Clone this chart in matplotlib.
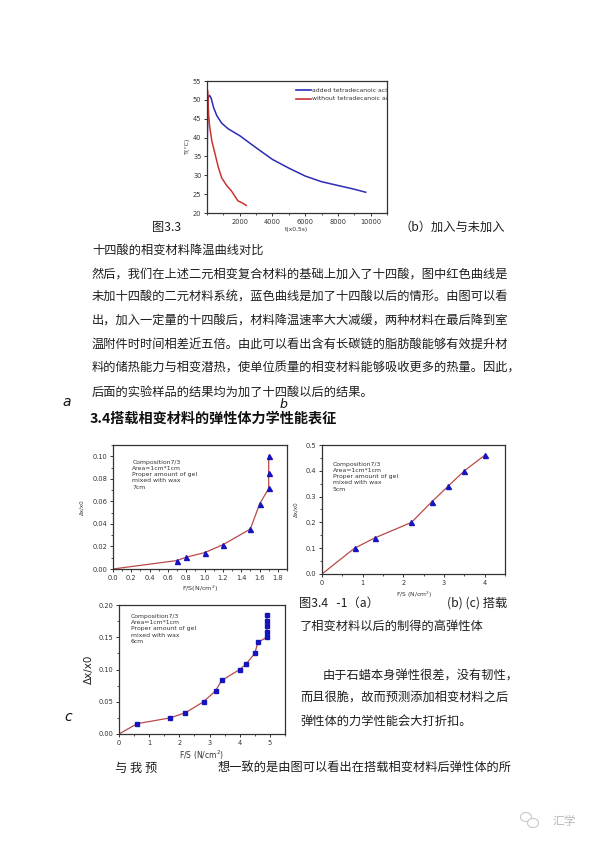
import matplotlib
matplotlib.use("Agg")
import matplotlib.pyplot as plt
from matplotlib.patches import Ellipse
from matplotlib.ticker import MultipleLocator

plt.rcParams['font.family'] = ['Noto Sans CJK SC', 'DejaVu Sans']
plt.rcParams['axes.unicode_minus'] = False

# 图3.3 降温曲线
t_added = [0, 20, 60, 150, 250, 400, 600, 900, 1300, 2000, 3000, 4000, 5000, 6000, 7000, 8000, 9000, 9700]
T_added = [20, 40, 50.5, 51.2, 50.5, 48, 45.8, 43.8, 42.3, 40.5, 37.3, 34.2, 31.9, 29.8, 28.3, 27.3, 26.3, 25.5]
t_without = [0, 30, 60, 100, 160, 300, 500, 700, 900, 1200, 1500, 1800, 1900, 2100, 2400]
T_without = [25, 52.5, 50, 46, 43, 39, 35.5, 32, 29.3, 27.3, 25.8, 23.8, 23.2, 22.8, 22.0]

# 图3.4 (a) 7cm
fs_a = [0, 0.7, 0.8, 1.0, 1.2, 1.5, 1.6, 1.7, 1.7, 1.7]
dx_a = [0, 0.0075, 0.0105, 0.0145, 0.0215, 0.0355, 0.0575, 0.0715, 0.0855, 0.1]
# (b) 5cm
fs_b = [0, 0.8, 1.3, 2.2, 2.7, 3.1, 3.5, 4.0]
dx_b = [0, 0.1, 0.14, 0.2, 0.28, 0.34, 0.40, 0.46]
# (c) 6cm
fs_c = [0, 0.6, 1.7, 2.2, 2.8, 3.2, 3.4, 4.0, 4.2, 4.5, 4.6, 4.9, 4.9, 4.9, 4.9, 4.9]
dx_c = [0, 0.016, 0.025, 0.033, 0.050, 0.067, 0.083, 0.100, 0.108, 0.125, 0.142,
        0.150, 0.1585, 0.167, 0.175, 0.184]

W, H = 600, 848
fig = plt.figure(figsize=(6, 8.48), dpi=100)
fig.patch.set_facecolor('white')

txt_color = '#1e1e1e'


def box(left, top, right, bottom):
    # 像素坐标 -> 图坐标
    return [left / W, 1 - bottom / H, (right - left) / W, (bottom - top) / H]


def put(x, y, s, size=8.8, **kw):
    kw.setdefault('color', txt_color)
    fig.text(x / W, 1 - y / H, s, fontsize=size, va='center', ha=kw.pop('ha', 'left'), **kw)


def style(ax, fsize=4.6):
    for sp in ax.spines.values():
        sp.set_color('#333333')
        sp.set_linewidth(0.9)
    ax.tick_params(which='both', direction='out', top=False, right=False,
                   labelsize=fsize, colors='#333333', pad=1.5)
    ax.tick_params(which='major', length=2.5, width=0.7)
    ax.tick_params(which='minor', length=1.5, width=0.6)
    for lab in ax.get_xticklabels() + ax.get_yticklabels():
        lab.set_family('DejaVu Sans')


# ---------- 图3.3 ----------
ax1 = fig.add_axes(box(207, 81, 387, 213))
ax1.plot(t_added, T_added, color='#2b2bb5', lw=1.1)
ax1.plot(t_without, T_without, color='#cc3333', lw=1.1)
ax1.set_xlim(0, 11000)
ax1.set_ylim(20, 55)
ax1.xaxis.set_major_locator(MultipleLocator(2000))
ax1.xaxis.set_minor_locator(MultipleLocator(1000))
ax1.yaxis.set_major_locator(MultipleLocator(5))
ax1.set_xticks([2000, 4000, 6000, 8000, 10000])
style(ax1, 4.8)
ax1.set_ylabel('T(°C)', fontsize=4.6, family='DejaVu Sans', labelpad=2, color='#333333')
ax1.set_xlabel('t(x0.5s)', fontsize=4.3, family='DejaVu Sans', labelpad=2, color='#333333')
# 图例（右侧被坐标轴截断）
for i, (lab, col) in enumerate([('added tetradecanoic acid', '#2b2bb5'),
                                ('without tetradecanoic acid', '#cc3333')]):
    yy = 0.93 - i * 0.065
    ax1.plot([0.495, 0.575], [yy, yy], transform=ax1.transAxes, color=col, lw=1.2)
    ax1.text(0.585, yy, lab, transform=ax1.transAxes, fontsize=4.4, va='center',
             family='DejaVu Sans', color='#333333', clip_on=True)

# ---------- 图3.4 (a) ----------
ax_a = fig.add_axes(box(113, 445, 287, 569))
ax_a.plot(fs_a, dx_a, color='#b94a48', lw=0.9)
ax_a.plot(fs_a[1:], dx_a[1:], ls='none', marker='^', ms=3.6, color='#1515c0')
ax_a.set_xlim(0, 1.9)
ax_a.set_ylim(0, 0.11)
ax_a.xaxis.set_major_locator(MultipleLocator(0.2))
ax_a.xaxis.set_minor_locator(MultipleLocator(0.1))
ax_a.yaxis.set_major_locator(MultipleLocator(0.02))
ax_a.yaxis.set_minor_locator(MultipleLocator(0.01))
ax_a.xaxis.set_major_formatter(matplotlib.ticker.FormatStrFormatter('%.1f'))
ax_a.yaxis.set_major_formatter(matplotlib.ticker.FormatStrFormatter('%.2f'))
style(ax_a, 4.8)
ax_a.set_ylabel('Δx/x0', fontsize=4, family='DejaVu Sans', labelpad=6, color='#333333')
ax_a.set_xlabel('F/S(N/cm$^2$)', fontsize=4.6, family='DejaVu Sans', labelpad=2, color='#333333')
ax_a.text(0.11, 0.88, 'Composition7/3\nArea=1cm*1cm\nProper amount of gel\nmixed with wax\n7cm',
          transform=ax_a.transAxes, fontsize=4.4, va='top', family='DejaVu Sans',
          color='#333333', linespacing=1.3)

# ---------- 图3.4 (b) ----------
ax_b = fig.add_axes(box(322, 445, 505, 574))
ax_b.plot(fs_b, dx_b, color='#b94a48', lw=0.9)
ax_b.plot(fs_b[1:], dx_b[1:], ls='none', marker='^', ms=3.6, color='#1515c0')
ax_b.set_xlim(0, 4.5)
ax_b.set_ylim(0, 0.5)
ax_b.xaxis.set_major_locator(MultipleLocator(1))
ax_b.xaxis.set_minor_locator(MultipleLocator(0.5))
ax_b.yaxis.set_major_locator(MultipleLocator(0.1))
ax_b.yaxis.set_minor_locator(MultipleLocator(0.05))
style(ax_b, 4.8)
ax_b.set_ylabel('Δx/x0', fontsize=4, family='DejaVu Sans', labelpad=5, color='#333333')
ax_b.set_xlabel('F/S (N/cm$^2$)', fontsize=4.3, family='DejaVu Sans', labelpad=3, color='#333333')
ax_b.text(0.06, 0.87, 'Composition7/3\nArea=1cm*1cm\nProper amount of gel\nmixed with wax\n5cm',
          transform=ax_b.transAxes, fontsize=4.4, va='top', family='DejaVu Sans',
          color='#333333', linespacing=1.3)

# ---------- 图3.4 (c) ----------
ax_c = fig.add_axes(box(119, 605, 285, 734))
ax_c.plot(fs_c, dx_c, color='#b94a48', lw=0.9)
ax_c.plot(fs_c[1:], dx_c[1:], ls='none', marker='s', ms=3.0, color='#1515c0')
ax_c.set_xlim(0, 5.5)
ax_c.set_ylim(0, 0.2)
ax_c.xaxis.set_major_locator(MultipleLocator(1))
ax_c.xaxis.set_minor_locator(MultipleLocator(0.5))
ax_c.yaxis.set_major_locator(MultipleLocator(0.05))
ax_c.yaxis.set_minor_locator(MultipleLocator(0.025))
ax_c.yaxis.set_major_formatter(matplotlib.ticker.FormatStrFormatter('%.2f'))
style(ax_c, 4.8)
ax_c.set_ylabel('Δx/x0', fontsize=7.5, family='DejaVu Sans', labelpad=3, color='#222222')
ax_c.set_xlabel('F/S (N/cm$^2$)', fontsize=5.5, family='DejaVu Sans', labelpad=2, color='#333333')
ax_c.text(0.07, 0.93, 'Composition7/3\nArea=1cm*1cm\nProper amount of gel\nmixed with wax\n6cm',
          transform=ax_c.transAxes, fontsize=4.4, va='top', family='DejaVu Sans',
          color='#333333', linespacing=1.3)

# ---------- 正文 ----------
put(152, 227, '图3.3')
put(400, 227, '（b）加入与未加入')
body = [
    '十四酸的相变材料降温曲线对比',
    '然后，我们在上述二元相变复合材料的基础上加入了十四酸，图中红色曲线是',
    '未加十四酸的二元材料系统，蓝色曲线是加了十四酸以后的情形。由图可以看',
    '出，加入一定量的十四酸后，材料降温速率大大减缓，两种材料在最后降到室',
    '温附件时时间相差近五倍。由此可以看出含有长碳链的脂肪酸能够有效提升材',
    '料的储热能力与相变潜热，使单位质量的相变材料能够吸收更多的热量。因此，',
    '后面的实验样品的结果均为加了十四酸以后的结果。',
]
for i, line in enumerate(body):
    put(92, 250 + i * 23.7, line)

put(62, 402, 'a', size=10, family='DejaVu Sans', style='italic', color='#111111')
put(280, 405, 'b', size=9, family='DejaVu Sans', style='italic', color='#111111')
put(64, 717, 'c', size=10, family='DejaVu Sans', style='italic', color='#111111')

put(90, 419, '3.4搭载相变材料的弹性体力学性能表征', size=10.2, weight='bold', color='#111111')

put(299, 603, '图3.4   -1（a）')
put(447, 603, '(b) (c) 搭载')
put(300, 626, '了相变材料以后的制得的高弹性体')
put(323, 675, '由于石蜡本身弹性很差，没有韧性，')
put(300, 698, '而且很脆，故而预测添加相变材料之后')
put(300, 721, '弹性体的力学性能会大打折扣。')
put(115, 768, '与 我 预')
put(218, 768, '想一致的是由图可以看出在搭载相变材料后弹性体的所')

# 水印
fig.patches.append(Ellipse((526 / W, 1 - 817 / H), 11 / W, 9 / H, transform=fig.transFigure,
                           fill=False, ec='#c8c8c8', lw=0.8))
fig.patches.append(Ellipse((533 / W, 1 - 823 / H), 11 / W, 9 / H, transform=fig.transFigure,
                           fill=True, fc='white', ec='#c8c8c8', lw=0.8))
put(552, 821, '汇学', size=8.5, color='#b8b8b8')

fig.savefig('out.png', dpi=100, facecolor='white')
